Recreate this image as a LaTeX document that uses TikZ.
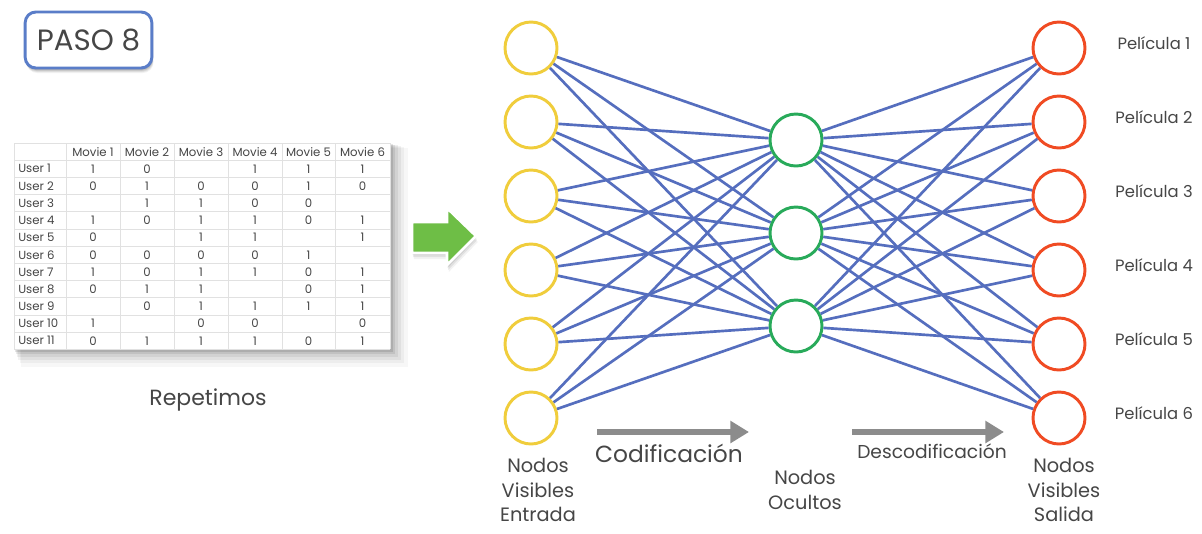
\documentclass[tikz,border=0pt]{standalone}
\usepackage{fontspec}
\setmainfont{Poppins}
\usetikzlibrary{arrows.meta}
\definecolor{txt}{RGB}{70,70,70}
\definecolor{edgeblue}{RGB}{85,110,190}
\definecolor{inyel}{RGB}{240,205,60}
\definecolor{hidgreen}{RGB}{40,170,90}
\definecolor{outred}{RGB}{240,75,35}
\definecolor{boxblue}{RGB}{90,125,200}
\definecolor{arrgreen}{RGB}{110,190,70}
\definecolor{arrgray}{RGB}{140,140,140}
\definecolor{gridgray}{RGB}{225,225,225}
\newcommand{\fs}[1]{\fontsize{#1pt}{#1pt}\selectfont}
\tikzset{
  neuron/.style={circle, minimum size=39pt, inner sep=0pt, line width=2.2pt, fill=white},
  inneuron/.style={neuron, draw=inyel},
  hidneuron/.style={neuron, draw=hidgreen},
  outneuron/.style={neuron, draw=outred},
  wire/.style={edgeblue, line width=2pt},
  lbl/.style={text=txt, align=center, font=\fontsize{14.5pt}{18.4pt}\selectfont, inner sep=0pt},
  cell/.style={text=txt, font=\fs{8.8}, inner sep=0pt, anchor=center},
  flow/.style={arrgray, line width=4pt, -{Triangle[length=14pt,width=16pt]}},
}
\begin{document}
\begin{tikzpicture}[x=0.75pt,y=-0.75pt]
\useasboundingbox (0,0) rectangle (1202,533);
\fill[white] (0,0) rectangle (1202,533);

% PASO 8 box
\foreach \o/\a in {5/0.05,4/0.07,3/0.09,2/0.1}{
  \fill[black,opacity=\a,rounded corners=8pt] (25+\o*0.3,12+\o) rectangle (152+\o*0.3,68+\o);}
\node[draw=boxblue, line width=2.2pt, rounded corners=8pt, fill=white,
      minimum width=95pt, minimum height=42pt, text=txt, font=\fs{22}, inner sep=0pt]
      (paso) at (88.5,40) {PASO 8};

% table shadow
\foreach \o/\a in {18/0.03,14/0.04,11/0.05,8/0.06,5/0.08,3/0.1}{
  \fill[black,opacity=\a] (14+\o*0.4,143+\o*0.3) rectangle (390+\o,349+\o);}
\fill[white] (14,143) rectangle (390,349);
% grid
\foreach \xx in {14,66,120,174,228,282,335,390}
  \draw[gridgray, line width=0.6pt] (\xx,143) -- (\xx,349.4);
\foreach \k in {0,...,12}
  \draw[gridgray, line width=0.6pt] (14,143+17.2*\k) -- (390,143+17.2*\k);
% header
\foreach \c/\xc in {1/93,2/147,3/201,4/255,5/308.5,6/362.5}
  \node[cell] (h\c) at (\xc,151.6) {Movie \c};
% rows
\foreach \r/\vals in {1/{1,0,,1,1,1},2/{0,1,0,0,1,0},3/{,1,1,0,0,},4/{1,0,1,1,0,1},
  5/{0,,1,1,,1},6/{0,0,0,0,1,},7/{1,0,1,1,0,1},8/{0,1,1,,0,1},9/{,0,1,1,1,1},
  10/{1,,0,0,,0},11/{0,1,1,1,0,1}}{
  \node[cell, anchor=west] (u\r) at (18,151.6+17.2*\r) {User \r};
  \foreach \v [count=\c] in \vals {
    \pgfmathsetmacro{\xc}{{93,147,201,255,308.5,362.5}[\c-1]}
    \node[cell] (v\r-\c) at (\xc,151.6+17.2*\r) {\v};
  }
}
\node[text=txt, font=\fs{16.5}, inner sep=0pt] (rep) at (208,400) {Repetimos};

% green arrow
\foreach \o/\a in {6/0.05,4/0.07,2/0.09}{
  \fill[black,opacity=\a] (412+\o*0.3,222+\o) -- (447+\o*0.3,222+\o) -- (447+\o*0.3,208+\o) -- (476+\o*0.3,236+\o) -- (447+\o*0.3,266+\o) -- (447+\o*0.3,253+\o) -- (412+\o*0.3,253+\o) -- cycle;}
\filldraw[fill=arrgreen, draw=white, line width=2pt, line join=miter]
  (412,222) -- (447,222) -- (447,208) -- (476,236) -- (447,265) -- (447,253) -- (412,253) -- cycle;

% neurons
\foreach \i/\yy in {1/48,2/122,3/196,4/270,5/344,6/418}{
  \node[inneuron] (in\i) at (531,\yy) {};
  \node[outneuron] (out\i) at (1059,\yy) {};
  \node[text=txt, font=\fs{12.3}, inner sep=0pt] (p\i) at (1154,\yy-5) {Película \i};
}
\foreach \j/\yy in {1/140,2/233,3/326}{
  \node[hidneuron] (h\j) at (796,\yy) {};
}
% wires
\foreach \i in {1,...,6}{
  \foreach \j in {1,2,3}{
    \draw[wire] (in\i) -- (h\j);
    \draw[wire] (h\j) -- (out\i);
  }
}

% labels
\node[lbl] (lin) at (538,490) {Nodos\\Visibles\\Entrada};
\node[lbl] (lhid) at (805,490) {Nodos\\Ocultos};
\node[lbl] (lout) at (1064,490) {Nodos\\Visibles\\Salida};

% flow arrows
\coordinate (c1) at (597,432); \coordinate (c2) at (749,432);
\draw[flow] (c1) -- (c2);
\node[text=txt, font=\fs{17.5}, inner sep=0pt] (cod) at (669,453) {Codificación};
\coordinate (d1) at (852,432); \coordinate (d2) at (1004,432);
\draw[flow] (d1) -- (d2);
\node[text=txt, font=\fs{14}, inner sep=0pt] (dec) at (932,451) {Descodificación};
\end{tikzpicture}
\end{document}
